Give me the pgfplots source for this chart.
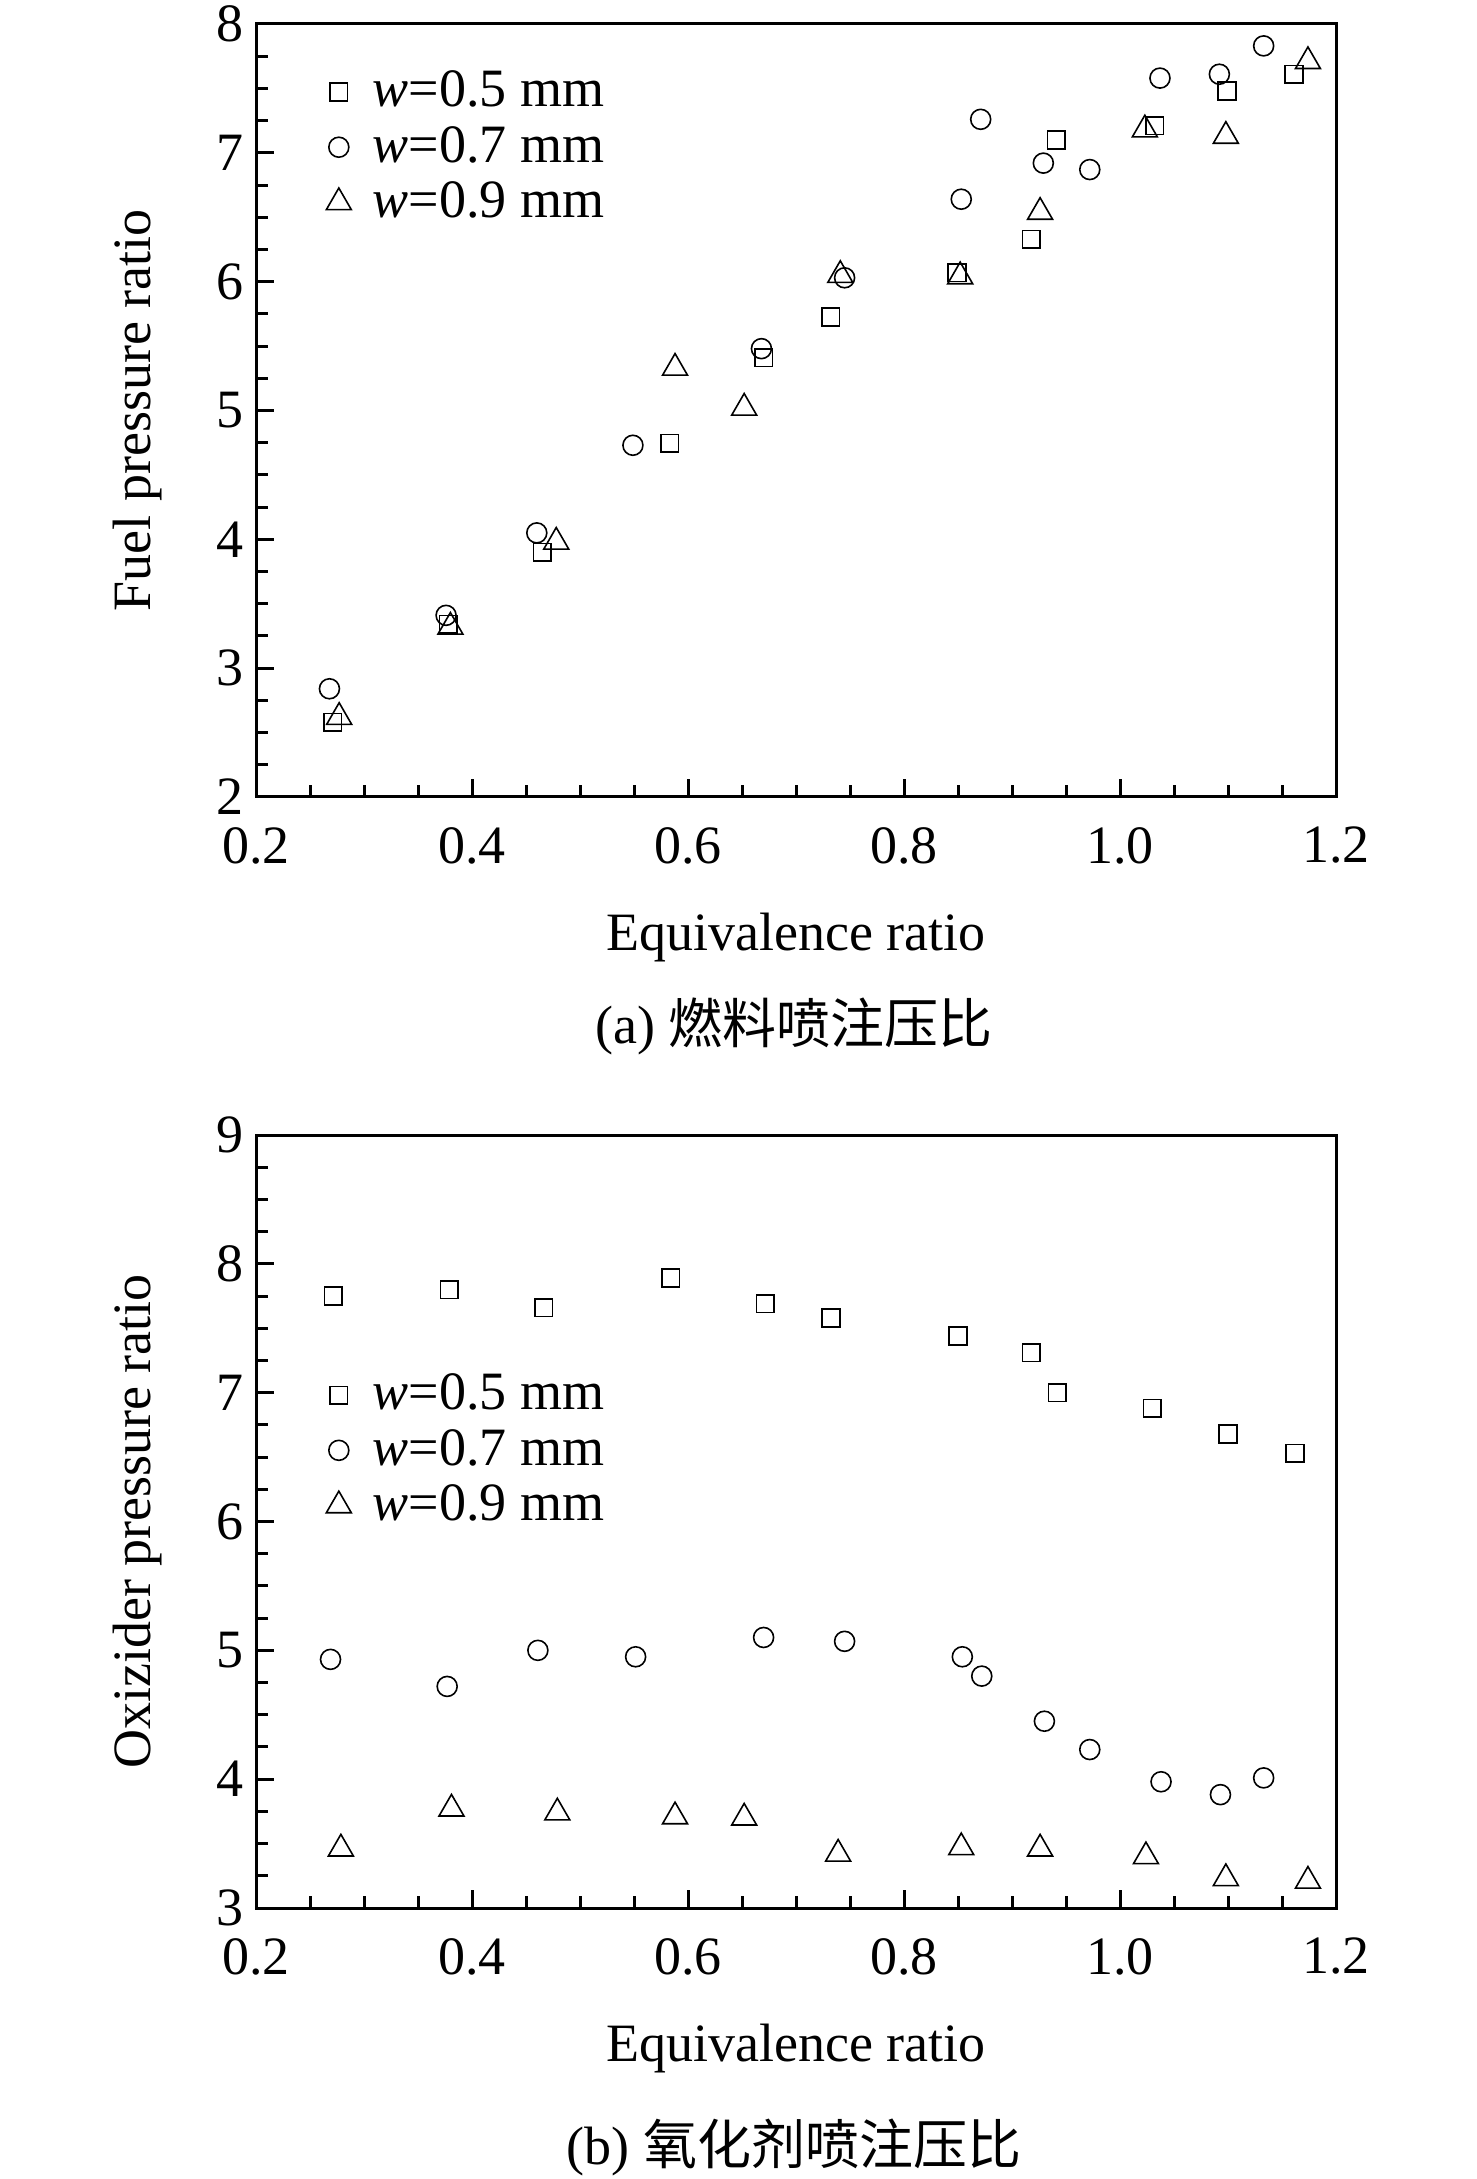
\documentclass[border=0pt]{standalone}
\usepackage{fontspec}
\setmainfont{Liberation Serif}
\newfontfamily\cjk{Noto Sans CJK SC}
\usepackage{pgfplots}
\pgfplotsset{compat=1.18}
\pgfplotsset{mystyle/.style={
  scale only axis, width=270pt, height=193.25pt,
  xmin=0.2, xmax=1.2,
  xtick={0.2,0.4,0.6,0.8,1.0,1.2},
  minor x tick num=3, minor y tick num=3,
  xtick pos=left, ytick pos=left,
  tick align=inside,
  major tick length=4.5pt, minor tick length=3pt,
  axis line style={line width=0.75pt},
  tick style={line width=0.75pt, black},
  /pgf/number format/assume math mode=true,
  xticklabel style={/pgf/number format/fixed, /pgf/number format/fixed zerofill, /pgf/number format/precision=1, yshift=-4pt},
  yticklabel style={xshift=0.5pt},
  tick label style={font=\fontsize{13.5}{16}\selectfont},
  label style={font=\fontsize{13.5}{16}\selectfont},
  xlabel style={at={(axis description cs:0.5,-0.198)}, anchor=base},
  ylabel style={at={(axis description cs:-0.0981,0.5)}, anchor=base},
  legend style={draw=none, fill=none, inner sep=0pt, row sep=4.6pt, column sep=5.4pt,
    font=\fontsize{13.5}{16}\selectfont,
    nodes={inner sep=0pt, text height=9.2pt, text depth=0pt}},
  legend cell align=left,
  legend image code/.code={\draw[#1] plot coordinates {(0pt,-0.9pt)};},
}}
\pgfplotsset{
  sq/.style={only marks, black, mark=square, mark size=2.2pt, mark options={line width=0.4pt}},
  ci/.style={only marks, black, mark=o, mark size=2.5pt, mark options={line width=0.4pt}},
  tr/.style={only marks, black, mark=triangle, mark size=3.6pt, mark options={line width=0.4pt}},
}
\begin{document}
\begin{tikzpicture}
\useasboundingbox (0,0) rectangle (369pt,-544.75pt);
\begin{axis}[mystyle, at={(64pt,-6pt)}, anchor=north west,
  ymin=2, ymax=8, ytick={2,3,4,5,6,7,8},
  xlabel={Equivalence ratio}, ylabel={Fuel pressure ratio},
  legend style={at={(axis description cs:0.0644,0.9415)}, anchor=north west}]
\addplot[sq] coordinates {(0.271,2.58) (0.378,3.34) (0.465,3.90) (0.583,4.745) (0.670,5.41) (0.732,5.725) (0.849,6.07) (0.918,6.33) (0.941,7.10) (1.032,7.21) (1.099,7.48) (1.161,7.61)};
\addlegendentry{\textit{w}=0.5 mm}
\addplot[ci] coordinates {(0.268,2.84) (0.376,3.41) (0.460,4.05) (0.549,4.73) (0.668,5.48) (0.745,6.03) (0.853,6.64) (0.871,7.26) (0.929,6.92) (0.972,6.87) (1.037,7.58) (1.092,7.61) (1.133,7.83)};
\addlegendentry{\textit{w}=0.7 mm}
\addplot[tr] coordinates {(0.277,2.62) (0.380,3.32) (0.478,3.98) (0.588,5.33) (0.652,5.02) (0.741,6.05) (0.852,6.04) (0.926,6.54) (1.023,7.18) (1.098,7.13) (1.174,7.71)};
\addlegendentry{\textit{w}=0.9 mm}
\end{axis}
\node[anchor=base, font=\fontsize{13.5}{16}\selectfont] at (198.5pt,-260.75pt) {(a) {\cjk 燃料喷注压比}};
\begin{axis}[mystyle, at={(64pt,-283.75pt)}, anchor=north west,
  ymin=3, ymax=9, ytick={3,4,5,6,7,8,9},
  xlabel={Equivalence ratio}, ylabel={Oxizider pressure ratio},
  legend style={at={(axis description cs:0.0644,0.693)}, anchor=north west}]
\addplot[sq] coordinates {(0.2715,7.75) (0.379,7.80) (0.4665,7.66) (0.584,7.89) (0.6715,7.69) (0.7324,7.58) (0.850,7.44) (0.918,7.31) (0.942,7.00) (1.030,6.88) (1.100,6.68) (1.162,6.53)};
\addlegendentry{\textit{w}=0.5 mm}
\addplot[ci] coordinates {(0.269,4.93) (0.377,4.72) (0.461,5.00) (0.5515,4.95) (0.670,5.10) (0.745,5.07) (0.854,4.95) (0.872,4.80) (0.930,4.45) (0.972,4.23) (1.038,3.98) (1.093,3.88) (1.133,4.01)};
\addlegendentry{\textit{w}=0.7 mm}
\addplot[tr] coordinates {(0.2786,3.46) (0.381,3.77) (0.479,3.74) (0.588,3.71) (0.652,3.70) (0.739,3.42) (0.853,3.47) (0.926,3.46) (1.024,3.40) (1.098,3.23) (1.174,3.21)};
\addlegendentry{\textit{w}=0.9 mm}
\end{axis}
\node[anchor=base, font=\fontsize{13.5}{16}\selectfont] at (198.5pt,-541pt) {(b) {\cjk 氧化剂喷注压比}};
\end{tikzpicture}
\end{document}
